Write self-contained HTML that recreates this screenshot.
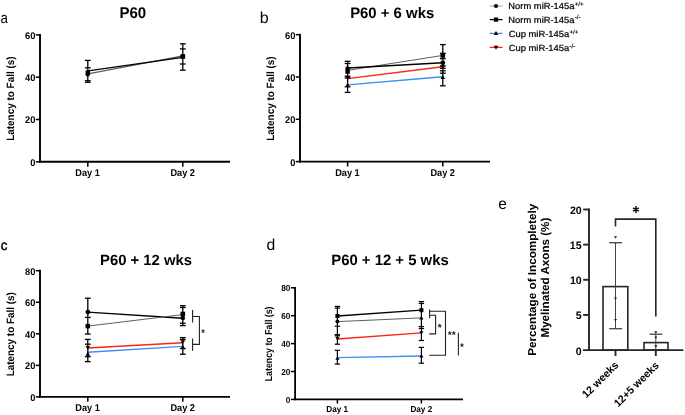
<!DOCTYPE html>
<html><head><meta charset="utf-8"><style>
html,body{margin:0;padding:0;background:#fff;}
svg{display:block;will-change:transform;}
text{font-family:"Liberation Sans", sans-serif;text-rendering:geometricPrecision;}
</style></head><body>
<svg width="685" height="415" viewBox="0 0 685 415">
<rect width="685" height="415" fill="#fff"/>
<text transform="translate(0.5 23.35) scale(0.873 1)" font-size="15.27" font-weight="normal" fill="#000">a</text>
<text transform="translate(259.86 23.34) scale(1.014 1)" font-size="15.78" font-weight="normal" fill="#000">b</text>
<text transform="translate(0.7 249.66) scale(0.947 1)" font-size="14.00" font-weight="normal" fill="#000" stroke="#000" stroke-width="0.45">c</text>
<text transform="translate(266.47 249.54) scale(1.000 1)" font-size="15.78" font-weight="normal" fill="#000">d</text>
<text transform="translate(498.3 208.64) scale(0.979 1)" font-size="15.82" font-weight="normal" fill="#000">e</text>
<text transform="translate(119.42 18.15) scale(0.971 1)" font-size="15.49" font-weight="bold" fill="#000">P60</text>
<text transform="translate(350.13 18.15) scale(0.987 1)" font-size="15.10" font-weight="bold" fill="#000">P60 + 6 wks</text>
<text transform="translate(100.04 264.65) scale(1.000 1)" font-size="14.83" font-weight="bold" fill="#000">P60 + 12 wks</text>
<text transform="translate(331.23 264.75) scale(0.994 1)" font-size="14.97" font-weight="bold" fill="#000">P60 + 12 + 5 wks</text>
<line x1="40" y1="33.95" x2="40" y2="162.75" stroke="#000" stroke-width="1.9"/>
<line x1="39.05" y1="161.8" x2="230" y2="161.8" stroke="#000" stroke-width="1.9"/>
<line x1="35.8" y1="161.8" x2="40" y2="161.8" stroke="#000" stroke-width="1.5"/>
<text transform="translate(30.21 165.78) scale(0.950 1)" font-size="9.80" font-weight="bold" fill="#000">0</text>
<line x1="35.8" y1="119.5" x2="40" y2="119.5" stroke="#000" stroke-width="1.5"/>
<text transform="translate(25.04 123.48) scale(0.950 1)" font-size="9.80" font-weight="bold" fill="#000">20</text>
<line x1="35.8" y1="77.2" x2="40" y2="77.2" stroke="#000" stroke-width="1.5"/>
<text transform="translate(25.04 81.18) scale(0.950 1)" font-size="9.80" font-weight="bold" fill="#000">40</text>
<line x1="35.8" y1="34.9" x2="40" y2="34.9" stroke="#000" stroke-width="1.5"/>
<text transform="translate(25.04 38.88) scale(0.950 1)" font-size="9.80" font-weight="bold" fill="#000">60</text>
<line x1="87.8" y1="161.8" x2="87.8" y2="166.7" stroke="#000" stroke-width="1.5"/>
<text transform="translate(75.35 175.78) scale(0.930 1)" font-size="9.90" font-weight="bold" fill="#000">Day 1</text>
<line x1="182.8" y1="161.8" x2="182.8" y2="166.7" stroke="#000" stroke-width="1.5"/>
<text transform="translate(170.42 175.88) scale(0.930 1)" font-size="9.90" font-weight="bold" fill="#000">Day 2</text>
<text transform="translate(13.68 140.85) scale(1.064 1) rotate(-90)" font-size="9.95" font-weight="bold" fill="#000">Latency to Fall (s)</text>
<line x1="88" y1="73.9" x2="182.8" y2="55.9" stroke="#5e5e5e" stroke-width="1.1"/>
<line x1="88" y1="70.9" x2="182.8" y2="57.4" stroke="#000" stroke-width="1.3"/>
<line x1="87.8" y1="60.4" x2="87.8" y2="82.3" stroke="#000" stroke-width="1.3"/>
<line x1="84.9" y1="60.4" x2="90.7" y2="60.4" stroke="#000" stroke-width="1.3"/>
<line x1="84.9" y1="82.3" x2="90.7" y2="82.3" stroke="#000" stroke-width="1.3"/>
<line x1="84.9" y1="67.8" x2="90.7" y2="67.8" stroke="#000" stroke-width="1.3"/>
<line x1="84.9" y1="80.7" x2="90.7" y2="80.7" stroke="#000" stroke-width="1.3"/>
<line x1="182.8" y1="43.8" x2="182.8" y2="70.2" stroke="#000" stroke-width="1.3"/>
<line x1="179.9" y1="43.8" x2="185.7" y2="43.8" stroke="#000" stroke-width="1.3"/>
<line x1="179.9" y1="70.2" x2="185.7" y2="70.2" stroke="#000" stroke-width="1.3"/>
<line x1="179.9" y1="48.9" x2="185.7" y2="48.9" stroke="#000" stroke-width="1.3"/>
<line x1="179.9" y1="64" x2="185.7" y2="64" stroke="#000" stroke-width="1.3"/>
<rect x="85.6" y="70.4" width="4.4" height="4.4" fill="#000"/>
<circle cx="87.8" cy="74.3" r="2.2" fill="#000"/>
<rect x="180.5" y="54.2" width="4.6" height="4.6" fill="#000"/>
<circle cx="182.8" cy="56.5" r="2.3" fill="#000"/>
<line x1="300" y1="33.75" x2="300" y2="162.55" stroke="#000" stroke-width="1.9"/>
<line x1="299.05" y1="161.6" x2="490" y2="161.6" stroke="#000" stroke-width="1.9"/>
<line x1="295.8" y1="161.6" x2="300" y2="161.6" stroke="#000" stroke-width="1.5"/>
<text transform="translate(290.21 165.58) scale(0.950 1)" font-size="9.80" font-weight="bold" fill="#000">0</text>
<line x1="295.8" y1="119.3" x2="300" y2="119.3" stroke="#000" stroke-width="1.5"/>
<text transform="translate(285.04 123.28) scale(0.950 1)" font-size="9.80" font-weight="bold" fill="#000">20</text>
<line x1="295.8" y1="77" x2="300" y2="77" stroke="#000" stroke-width="1.5"/>
<text transform="translate(285.04 80.98) scale(0.950 1)" font-size="9.80" font-weight="bold" fill="#000">40</text>
<line x1="295.8" y1="34.7" x2="300" y2="34.7" stroke="#000" stroke-width="1.5"/>
<text transform="translate(285.04 38.68) scale(0.950 1)" font-size="9.80" font-weight="bold" fill="#000">60</text>
<line x1="347.6" y1="161.6" x2="347.6" y2="166.5" stroke="#000" stroke-width="1.5"/>
<text transform="translate(335.15 175.68) scale(0.930 1)" font-size="9.90" font-weight="bold" fill="#000">Day 1</text>
<line x1="442.8" y1="161.6" x2="442.8" y2="166.5" stroke="#000" stroke-width="1.5"/>
<text transform="translate(430.42 175.78) scale(0.930 1)" font-size="9.90" font-weight="bold" fill="#000">Day 2</text>
<text transform="translate(273.68 140.85) scale(1.064 1) rotate(-90)" font-size="9.95" font-weight="bold" fill="#000">Latency to Fall (s)</text>
<line x1="347.6" y1="70.4" x2="442.8" y2="55.4" stroke="#5e5e5e" stroke-width="1.0"/>
<line x1="347.6" y1="68" x2="442.8" y2="62.8" stroke="#000" stroke-width="1.4"/>
<line x1="347.6" y1="78.6" x2="442.8" y2="66.8" stroke="#ff2414" stroke-width="1.4"/>
<line x1="347.6" y1="84.9" x2="442.8" y2="76.8" stroke="#3d8ef0" stroke-width="1.4"/>
<line x1="347.6" y1="61.3" x2="347.6" y2="92.4" stroke="#000" stroke-width="1.3"/>
<line x1="344.7" y1="61.3" x2="350.5" y2="61.3" stroke="#000" stroke-width="1.3"/>
<line x1="344.7" y1="92.4" x2="350.5" y2="92.4" stroke="#000" stroke-width="1.3"/>
<line x1="344.7" y1="63.5" x2="350.5" y2="63.5" stroke="#000" stroke-width="1.3"/>
<line x1="344.7" y1="76.2" x2="350.5" y2="76.2" stroke="#000" stroke-width="1.3"/>
<line x1="344.7" y1="77.9" x2="350.5" y2="77.9" stroke="#000" stroke-width="1.3"/>
<line x1="344.7" y1="86.8" x2="350.5" y2="86.8" stroke="#000" stroke-width="1.3"/>
<line x1="442.8" y1="44.6" x2="442.8" y2="85.8" stroke="#000" stroke-width="1.3"/>
<line x1="439.9" y1="44.6" x2="445.7" y2="44.6" stroke="#000" stroke-width="1.3"/>
<line x1="439.9" y1="85.8" x2="445.7" y2="85.8" stroke="#000" stroke-width="1.3"/>
<line x1="439.9" y1="53.3" x2="445.7" y2="53.3" stroke="#000" stroke-width="1.3"/>
<line x1="439.9" y1="58.7" x2="445.7" y2="58.7" stroke="#000" stroke-width="1.3"/>
<line x1="439.9" y1="65.9" x2="445.7" y2="65.9" stroke="#000" stroke-width="1.3"/>
<line x1="439.9" y1="68.3" x2="445.7" y2="68.3" stroke="#000" stroke-width="1.3"/>
<line x1="439.9" y1="70.8" x2="445.7" y2="70.8" stroke="#000" stroke-width="1.3"/>
<line x1="439.9" y1="73.2" x2="445.7" y2="73.2" stroke="#000" stroke-width="1.3"/>
<circle cx="347.6" cy="68.6" r="2.3" fill="#000"/>
<rect x="345.4" y="69.4" width="4.4" height="4.4" fill="#000"/>
<path d="M347.6 80.3L349.9 76.3L345.3 76.3Z" fill="#000"/>
<path d="M347.6 82.7L349.9 86.7L345.3 86.7Z" fill="#000"/>
<rect x="440.5" y="53.1" width="4.6" height="4.6" fill="#000"/>
<circle cx="442.8" cy="62.8" r="2.4" fill="#000"/>
<path d="M442.8 69.19L444.99 65.39L440.62 65.39Z" fill="#000"/>
<path d="M442.8 75.1L445.1 79.1L440.5 79.1Z" fill="#000"/>
<line x1="489.8" y1="6" x2="502.6" y2="6" stroke="#b4b4b4" stroke-width="1.3"/>
<circle cx="496" cy="6" r="2.1" fill="#000"/>
<text transform="translate(508.35 9.13) scale(1.057 1)" font-size="8.87" font-weight="normal" fill="#000" stroke="#000" stroke-width="0.22">Norm miR-145a</text>
<text x="574.7" y="5.8" font-size="6.2" fill="#000" stroke="#000" stroke-width="0.15">+/+</text>
<line x1="489.8" y1="19.6" x2="502.6" y2="19.6" stroke="#000" stroke-width="1.3"/>
<rect x="493.9" y="17.5" width="4.2" height="4.2" fill="#000"/>
<text transform="translate(508.35 22.63) scale(1.057 1)" font-size="8.87" font-weight="normal" fill="#000" stroke="#000" stroke-width="0.22">Norm miR-145a</text>
<text x="574.7" y="19.3" font-size="6.2" fill="#000" stroke="#000" stroke-width="0.15">-/-</text>
<line x1="489.8" y1="33.4" x2="502.6" y2="33.4" stroke="#3d8ef0" stroke-width="1.3"/>
<path d="M496 31.1L498.3 35.1L493.7 35.1Z" fill="#000"/>
<text transform="translate(508.63 36.93) scale(1.060 1)" font-size="8.87" font-weight="normal" fill="#000" stroke="#000" stroke-width="0.22">Cup miR-145a</text>
<text x="569.4" y="33.6" font-size="6.2" fill="#000" stroke="#000" stroke-width="0.15">+/+</text>
<line x1="489.8" y1="47.4" x2="502.6" y2="47.4" stroke="#ff2414" stroke-width="1.3"/>
<path d="M496 49.7L498.3 45.7L493.7 45.7Z" fill="#000"/>
<text transform="translate(508.63 50.83) scale(1.060 1)" font-size="8.87" font-weight="normal" fill="#000" stroke="#000" stroke-width="0.22">Cup miR-145a</text>
<text x="569.4" y="47.5" font-size="6.2" fill="#000" stroke="#000" stroke-width="0.15">-/-</text>
<line x1="40" y1="269.75" x2="40" y2="397.85" stroke="#000" stroke-width="1.9"/>
<line x1="39.05" y1="396.9" x2="230" y2="396.9" stroke="#000" stroke-width="1.9"/>
<line x1="35.8" y1="396.9" x2="40" y2="396.9" stroke="#000" stroke-width="1.5"/>
<text transform="translate(30.21 400.88) scale(0.950 1)" font-size="9.80" font-weight="bold" fill="#000">0</text>
<line x1="35.8" y1="365.35" x2="40" y2="365.35" stroke="#000" stroke-width="1.5"/>
<text transform="translate(25.04 369.33) scale(0.950 1)" font-size="9.80" font-weight="bold" fill="#000">20</text>
<line x1="35.8" y1="333.8" x2="40" y2="333.8" stroke="#000" stroke-width="1.5"/>
<text transform="translate(25.04 337.78) scale(0.950 1)" font-size="9.80" font-weight="bold" fill="#000">40</text>
<line x1="35.8" y1="302.25" x2="40" y2="302.25" stroke="#000" stroke-width="1.5"/>
<text transform="translate(25.04 306.23) scale(0.950 1)" font-size="9.80" font-weight="bold" fill="#000">60</text>
<line x1="35.8" y1="270.7" x2="40" y2="270.7" stroke="#000" stroke-width="1.5"/>
<text transform="translate(25.04 274.68) scale(0.950 1)" font-size="9.80" font-weight="bold" fill="#000">80</text>
<line x1="87.8" y1="396.9" x2="87.8" y2="401.8" stroke="#000" stroke-width="1.5"/>
<text transform="translate(75.35 411.18) scale(0.930 1)" font-size="9.90" font-weight="bold" fill="#000">Day 1</text>
<line x1="182.8" y1="396.9" x2="182.8" y2="401.8" stroke="#000" stroke-width="1.5"/>
<text transform="translate(170.42 411.28) scale(0.930 1)" font-size="9.90" font-weight="bold" fill="#000">Day 2</text>
<text transform="translate(13.68 376.34) scale(1.068 1) rotate(-90)" font-size="9.92" font-weight="bold" fill="#000">Latency to Fall (s)</text>
<line x1="87.8" y1="312.1" x2="182.8" y2="318.2" stroke="#000" stroke-width="1.4"/>
<line x1="87.8" y1="326.1" x2="182.8" y2="314.6" stroke="#5e5e5e" stroke-width="1.0"/>
<line x1="87.8" y1="348" x2="182.8" y2="342.8" stroke="#ff2414" stroke-width="1.4"/>
<line x1="87.8" y1="352.3" x2="182.8" y2="346.4" stroke="#3d8ef0" stroke-width="1.4"/>
<line x1="87.8" y1="298.2" x2="87.8" y2="334" stroke="#000" stroke-width="1.3"/>
<line x1="84.9" y1="298.2" x2="90.7" y2="298.2" stroke="#000" stroke-width="1.3"/>
<line x1="84.9" y1="334" x2="90.7" y2="334" stroke="#000" stroke-width="1.3"/>
<line x1="84.9" y1="317.4" x2="90.7" y2="317.4" stroke="#000" stroke-width="1.3"/>
<line x1="87.8" y1="339.4" x2="87.8" y2="361.6" stroke="#000" stroke-width="1.3"/>
<line x1="84.9" y1="339.4" x2="90.7" y2="339.4" stroke="#000" stroke-width="1.3"/>
<line x1="84.9" y1="361.6" x2="90.7" y2="361.6" stroke="#000" stroke-width="1.3"/>
<line x1="84.9" y1="344.2" x2="90.7" y2="344.2" stroke="#000" stroke-width="1.3"/>
<line x1="84.9" y1="356.7" x2="90.7" y2="356.7" stroke="#000" stroke-width="1.3"/>
<line x1="182.8" y1="305.7" x2="182.8" y2="325.6" stroke="#000" stroke-width="1.3"/>
<line x1="179.9" y1="305.7" x2="185.7" y2="305.7" stroke="#000" stroke-width="1.3"/>
<line x1="179.9" y1="325.6" x2="185.7" y2="325.6" stroke="#000" stroke-width="1.3"/>
<line x1="179.9" y1="307.5" x2="185.7" y2="307.5" stroke="#000" stroke-width="1.3"/>
<line x1="179.9" y1="323.2" x2="185.7" y2="323.2" stroke="#000" stroke-width="1.3"/>
<line x1="182.8" y1="337.6" x2="182.8" y2="354.2" stroke="#000" stroke-width="1.3"/>
<line x1="179.9" y1="337.6" x2="185.7" y2="337.6" stroke="#000" stroke-width="1.3"/>
<line x1="179.9" y1="354.2" x2="185.7" y2="354.2" stroke="#000" stroke-width="1.3"/>
<line x1="179.9" y1="339.4" x2="185.7" y2="339.4" stroke="#000" stroke-width="1.3"/>
<line x1="179.9" y1="348.6" x2="185.7" y2="348.6" stroke="#000" stroke-width="1.3"/>
<circle cx="87.8" cy="312.1" r="2.4" fill="#000"/>
<rect x="85.6" y="323.9" width="4.4" height="4.4" fill="#000"/>
<circle cx="87.8" cy="326.1" r="2.2" fill="#000"/>
<path d="M87.8 349.9L90.1 345.9L85.5 345.9Z" fill="#000"/>
<path d="M87.8 351.7L90.1 355.7L85.5 355.7Z" fill="#000"/>
<rect x="180.5" y="311.7" width="4.6" height="4.6" fill="#000"/>
<circle cx="182.8" cy="318" r="2.3" fill="#000"/>
<path d="M182.8 344.3L185.1 340.3L180.5 340.3Z" fill="#000"/>
<path d="M182.8 344.7L185.1 348.7L180.5 348.7Z" fill="#000"/>
<path d="M192.6 310.1V322.5M192.6 316.5H199.4V344.4H192.6M192.6 338.5V350.8" fill="none" stroke="#222" stroke-width="1.1"/>
<text transform="translate(201.25 335.81) scale(0.974 1)" font-size="9.73" font-weight="bold" fill="#222">*</text>
<line x1="295.1" y1="286.9" x2="295.1" y2="400.3" stroke="#000" stroke-width="1.8"/>
<line x1="294.2" y1="399.4" x2="463" y2="399.4" stroke="#000" stroke-width="1.8"/>
<line x1="290.9" y1="399.4" x2="295.1" y2="399.4" stroke="#000" stroke-width="1.5"/>
<text transform="translate(285.84 403) scale(0.950 1)" font-size="8.70" font-weight="bold" fill="#000">0</text>
<line x1="290.9" y1="371.5" x2="295.1" y2="371.5" stroke="#000" stroke-width="1.5"/>
<text transform="translate(281.26 375.1) scale(0.950 1)" font-size="8.70" font-weight="bold" fill="#000">20</text>
<line x1="290.9" y1="343.6" x2="295.1" y2="343.6" stroke="#000" stroke-width="1.5"/>
<text transform="translate(281.26 347.2) scale(0.950 1)" font-size="8.70" font-weight="bold" fill="#000">40</text>
<line x1="290.9" y1="315.7" x2="295.1" y2="315.7" stroke="#000" stroke-width="1.5"/>
<text transform="translate(281.26 319.3) scale(0.950 1)" font-size="8.70" font-weight="bold" fill="#000">60</text>
<line x1="290.9" y1="287.8" x2="295.1" y2="287.8" stroke="#000" stroke-width="1.5"/>
<text transform="translate(281.26 291.4) scale(0.950 1)" font-size="8.70" font-weight="bold" fill="#000">80</text>
<line x1="337.4" y1="399.4" x2="337.4" y2="403.6" stroke="#000" stroke-width="1.5"/>
<text transform="translate(326.34 412.15) scale(0.940 1)" font-size="8.70" font-weight="bold" fill="#000">Day 1</text>
<line x1="421.4" y1="399.4" x2="421.4" y2="403.6" stroke="#000" stroke-width="1.5"/>
<text transform="translate(410.4 412.24) scale(0.940 1)" font-size="8.70" font-weight="bold" fill="#000">Day 2</text>
<text transform="translate(272.09 381.27) scale(1.143 1) rotate(-90)" font-size="8.80" font-weight="bold" fill="#000">Latency to Fall (s)</text>
<line x1="337.4" y1="316" x2="421.4" y2="310.2" stroke="#000" stroke-width="1.3"/>
<line x1="337.4" y1="321.6" x2="421.4" y2="317.9" stroke="#5e5e5e" stroke-width="1.0"/>
<line x1="337.4" y1="339" x2="421.4" y2="332.8" stroke="#ff2414" stroke-width="1.3"/>
<line x1="337.4" y1="357.7" x2="421.4" y2="356" stroke="#3d8ef0" stroke-width="1.3"/>
<line x1="337.4" y1="306.4" x2="337.4" y2="344.2" stroke="#000" stroke-width="1.2"/>
<line x1="334.7" y1="306.4" x2="340.1" y2="306.4" stroke="#000" stroke-width="1.2"/>
<line x1="334.7" y1="344.2" x2="340.1" y2="344.2" stroke="#000" stroke-width="1.2"/>
<line x1="334.7" y1="308.1" x2="340.1" y2="308.1" stroke="#000" stroke-width="1.2"/>
<line x1="334.7" y1="326.2" x2="340.1" y2="326.2" stroke="#000" stroke-width="1.2"/>
<line x1="334.7" y1="334.6" x2="340.1" y2="334.6" stroke="#000" stroke-width="1.2"/>
<line x1="334.7" y1="335.8" x2="340.1" y2="335.8" stroke="#000" stroke-width="1.2"/>
<line x1="337.4" y1="350.3" x2="337.4" y2="364.1" stroke="#000" stroke-width="1.2"/>
<line x1="334.7" y1="350.3" x2="340.1" y2="350.3" stroke="#000" stroke-width="1.2"/>
<line x1="334.7" y1="364.1" x2="340.1" y2="364.1" stroke="#000" stroke-width="1.2"/>
<line x1="421.4" y1="301.6" x2="421.4" y2="340.5" stroke="#000" stroke-width="1.2"/>
<line x1="418.7" y1="301.6" x2="424.1" y2="301.6" stroke="#000" stroke-width="1.2"/>
<line x1="418.7" y1="340.5" x2="424.1" y2="340.5" stroke="#000" stroke-width="1.2"/>
<line x1="418.7" y1="303.5" x2="424.1" y2="303.5" stroke="#000" stroke-width="1.2"/>
<line x1="418.7" y1="326.6" x2="424.1" y2="326.6" stroke="#000" stroke-width="1.2"/>
<line x1="418.7" y1="328.5" x2="424.1" y2="328.5" stroke="#000" stroke-width="1.2"/>
<line x1="421.4" y1="347.4" x2="421.4" y2="363.2" stroke="#000" stroke-width="1.2"/>
<line x1="418.7" y1="347.4" x2="424.1" y2="347.4" stroke="#000" stroke-width="1.2"/>
<line x1="418.7" y1="363.2" x2="424.1" y2="363.2" stroke="#000" stroke-width="1.2"/>
<rect x="335.4" y="314" width="4" height="4" fill="#000"/>
<circle cx="337.4" cy="321.6" r="2.0" fill="#000"/>
<path d="M337.4 340.57L339.47 336.97L335.33 336.97Z" fill="#000"/>
<path d="M337.4 356.13L339.47 359.73L335.33 359.73Z" fill="#000"/>
<rect x="419.4" y="308.2" width="4" height="4" fill="#000"/>
<path d="M421.4 315.83L423.47 319.43L419.33 319.43Z" fill="#000"/>
<path d="M421.4 334.87L423.47 331.27L419.33 331.27Z" fill="#000"/>
<path d="M421.4 353.93L423.47 357.53L419.33 357.53Z" fill="#000"/>
<path d="M429.6 309.6V318.2M429.6 311.2H445.5V355.3H429.2M429.6 315.3H435.6V333.9H429.2M458.4 332.8V355.6" fill="none" stroke="#222" stroke-width="1.1"/>
<text transform="translate(437.75 331.27) scale(0.949 1)" font-size="10.54" font-weight="bold" fill="#222">*</text>
<text transform="translate(447.65 337.91) scale(1.068 1)" font-size="9.73" font-weight="bold" fill="#222">**</text>
<text transform="translate(459.95 350.21) scale(1.028 1)" font-size="9.73" font-weight="bold" fill="#222">*</text>
<line x1="589" y1="208.6" x2="589" y2="350.1" stroke="#262626" stroke-width="1.9"/>
<line x1="582.9" y1="350.1" x2="683.3" y2="350.1" stroke="#262626" stroke-width="1.9"/>
<line x1="583.2" y1="314.95" x2="589" y2="314.95" stroke="#262626" stroke-width="1.9"/>
<text transform="translate(575.69 319.27) scale(0.980 1)" font-size="10.80" font-weight="bold" fill="#000">5</text>
<line x1="583.2" y1="279.8" x2="589" y2="279.8" stroke="#262626" stroke-width="1.9"/>
<text transform="translate(569.98 284.18) scale(0.980 1)" font-size="10.80" font-weight="bold" fill="#000">10</text>
<line x1="583.2" y1="244.65" x2="589" y2="244.65" stroke="#262626" stroke-width="1.9"/>
<text transform="translate(569.82 248.97) scale(0.980 1)" font-size="10.80" font-weight="bold" fill="#000">15</text>
<line x1="583.2" y1="209.5" x2="589" y2="209.5" stroke="#262626" stroke-width="1.9"/>
<text transform="translate(569.98 213.88) scale(0.980 1)" font-size="10.80" font-weight="bold" fill="#000">20</text>
<text transform="translate(575.85 354.68) scale(0.980 1)" font-size="10.80" font-weight="bold" fill="#000">0</text>
<rect x="603.0" y="286.6" width="24.8" height="63.5" fill="none" stroke="#262626" stroke-width="1.6"/>
<rect x="644.0" y="342.6" width="24.0" height="7.5" fill="none" stroke="#262626" stroke-width="1.6"/>
<line x1="615.5" y1="350.1" x2="615.5" y2="356" stroke="#262626" stroke-width="1.9"/>
<line x1="655.8" y1="350.1" x2="655.8" y2="356" stroke="#262626" stroke-width="1.9"/>
<line x1="615.5" y1="242.7" x2="615.5" y2="328.7" stroke="#444" stroke-width="1.0"/>
<line x1="609.2" y1="242.7" x2="622" y2="242.7" stroke="#444" stroke-width="1.3"/>
<line x1="609.2" y1="328.7" x2="622" y2="328.7" stroke="#444" stroke-width="1.3"/>
<line x1="655.8" y1="334.2" x2="655.8" y2="349" stroke="#444" stroke-width="1.0"/>
<line x1="649.5" y1="334.2" x2="662.3" y2="334.2" stroke="#444" stroke-width="1.3"/>
<path d="M615.5 238.8L617 236.2L614 236.2Z" fill="#222"/>
<path d="M615.5 300L617 297.39L614 297.39Z" fill="#222"/>
<path d="M615.5 321.5L617 318.89L614 318.89Z" fill="#222"/>
<path d="M655.8 333.89L657.29 331.29L654.3 331.29Z" fill="#222"/>
<path d="M655.8 339.1L657.29 336.5L654.3 336.5Z" fill="#222"/>
<path d="M655.8 347.89L657.29 345.29L654.3 345.29Z" fill="#222"/>
<path d="M615.5 226.6V219.1H655.8V316.6" fill="none" stroke="#262626" stroke-width="1.6"/>
<path d="M635.9 206.1L635.9 212.9M638.84 207.8L632.96 211.2M638.84 211.2L632.96 207.8" fill="none" stroke="#111" stroke-width="1.5"/>
<text transform="translate(535.7 355.76) scale(0.978 1) rotate(-90)" font-size="11.70" font-weight="bold" fill="#000">Percentage of Incompletely</text>
<text transform="translate(549.37 337.56) scale(0.991 1) rotate(-90)" font-size="11.65" font-weight="bold" fill="#000">Myelinated Axons (%)</text>
<text transform="translate(619.2 365.7) rotate(-45)" font-size="10.6" font-weight="bold" text-anchor="end">12 weeks</text>
<text transform="translate(659.6 366.1) rotate(-45)" font-size="10.6" font-weight="bold" text-anchor="end">12+5 weeks</text>
</svg>
</body></html>
